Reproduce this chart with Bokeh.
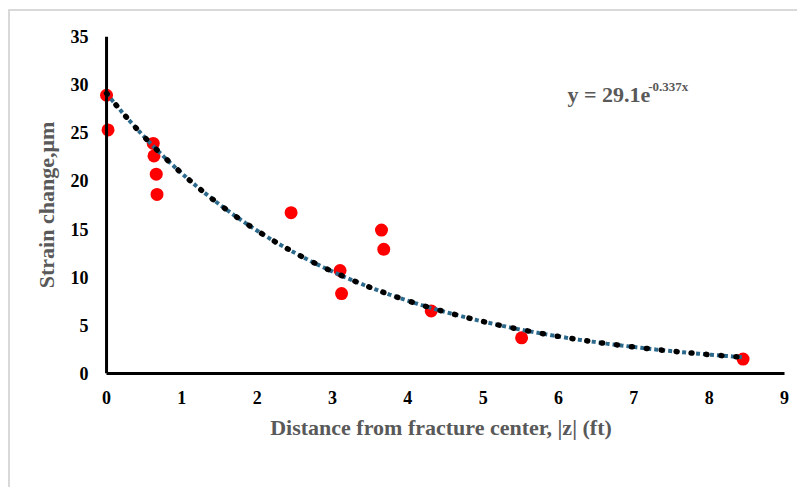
import numpy as np
from bokeh.plotting import figure
from bokeh.models import Range1d, Label, Span
from bokeh.embed import file_html
from bokeh.resources import INLINE

# ---- data ----
distance_ft = [0.0, 0.02, 0.62, 0.63, 0.66, 0.67, 2.45, 3.10, 3.12, 3.65, 3.68, 4.31, 5.51, 8.45]
strain_um = [28.9, 25.3, 23.9, 22.6, 20.7, 18.6, 16.7, 10.7, 8.3, 14.9, 12.9, 6.5, 3.7, 1.5]
x_ticks = list(range(0, 10))
y_ticks = list(range(0, 40, 5))
fit_a = 29.1      # exponential trendline coefficient (from chart label)
fit_b = -0.337    # exponential trendline exponent (from chart label)
x_label = "Distance from fracture center, |z| (ft)"
y_label = "Strain change,μm"

# trendline from the displayed equation
fit_x = np.linspace(0, max(distance_ft), 300)
fit_y = fit_a * np.exp(fit_b * fit_x)

FONT = "Liberation Serif"
GRAY = "#595959"

p = figure(width=789, height=478, output_backend="svg", toolbar_location=None,
           x_range=Range1d(-0.12, 9), y_range=Range1d(0, 35),
           min_border_left=87, min_border_right=15, min_border_top=25, min_border_bottom=116)
p.styles = {"margin-left": "8px", "margin-top": "9px",
            "border-left": "2px solid #d9d9d9", "border-top": "2px solid #d9d9d9"}

p.background_fill_color = "white"
p.border_fill_color = "white"
p.outline_line_color = None
p.grid.visible = False

# vertical axis line at x = 0
p.add_layout(Span(location=0, dimension="height", line_color="black", line_width=3))

p.scatter(distance_ft, strain_um, size=13, fill_color="#FF0000", line_color=None)
p.line(fit_x, fit_y, color="#2B6A8C", line_width=4, line_dash="4 3")
p.line(fit_x, fit_y, color="black", line_width=5.5, line_dash="1 14", line_cap="round")

for ax in (p.xaxis[0], p.yaxis[0]):
    ax.axis_line_width = 3
    ax.axis_line_color = "black"
    ax.major_tick_line_color = None
    ax.minor_tick_line_color = None
    ax.major_label_text_font = FONT
    ax.major_label_text_font_style = "bold"
    ax.major_label_text_font_size = "18px"
    ax.major_label_text_color = "black"
    ax.axis_label_text_font = FONT
    ax.axis_label_text_font_style = "bold"
    ax.axis_label_text_font_size = "22px"
    ax.axis_label_text_color = GRAY

p.yaxis.axis_line_color = None
p.xaxis.ticker = x_ticks
p.yaxis.ticker = y_ticks
p.xaxis.bounds = (0, 9)
p.xaxis.axis_label = x_label
p.yaxis.axis_label = y_label
p.xaxis.major_label_standoff = 11
p.yaxis.major_label_standoff = 3
p.xaxis.axis_label_standoff = 8
p.yaxis.axis_label_standoff = 9

eq_main = Label(x=6.12, y=28.96, text=f"y = {fit_a}e", text_font=FONT, text_font_style="bold",
                text_font_size="22px", text_color=GRAY, text_baseline="alphabetic")
eq_sup = Label(x=7.19, y=29.8, text=f"{fit_b}x", text_font=FONT, text_font_style="bold",
               text_font_size="13px", text_color=GRAY, text_baseline="alphabetic")
p.add_layout(eq_main)
p.add_layout(eq_sup)

open("out.html", "w").write(file_html(p, INLINE))
